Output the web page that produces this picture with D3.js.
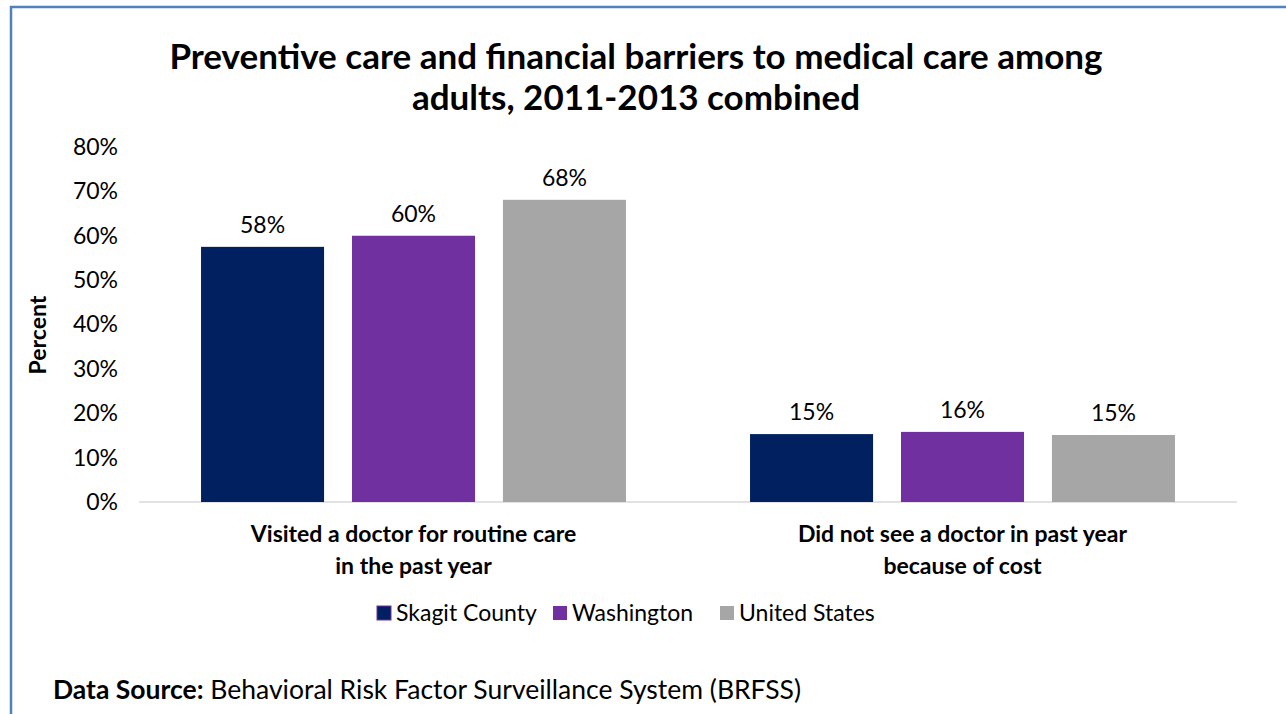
<!DOCTYPE html>
<html>
<head>
<meta charset="utf-8">
<script src="https://cdn.jsdelivr.net/npm/d3@7"></script>
<style>
  body { margin: 0; background: #fff; }
  svg { display: block; font-family: Lato, "Open Sans", sans-serif; }
</style>
</head>
<body>
<div id="vis"></div>
<script>
var categories = ['Visited a doctor for routine care|in the past year', 'Did not see a doctor in past year|because of cost'];
var series = ['Skagit County', 'Washington', 'United States'];
var colours = ['#002060', '#7030a0', '#a6a6a6'];
var skagit = [57.5, 15.3];
var washington = [60.0, 15.8];
var united_states = [68.1, 15.1];
var y_ticks = [0, 10, 20, 30, 40, 50, 60, 70, 80];

var width = 1286, height = 714;
var margin = { top: 147, bottom: 212, left: 139, right: 49 };

var svg = d3.select('#vis')
    .append('svg')
    .attr('width', width)
    .attr('height', height);

// outer frame
svg.append('rect')
    .attr('x', 11).attr('y', 7)
    .attr('width', width).attr('height', height)
    .attr('fill', 'none')
    .attr('stroke', '#4f81bd')
    .attr('stroke-width', 2.5);

var plot_w = width - margin.left - margin.right;
var plot_h = height - margin.top - margin.bottom;

var g = svg.append('g')
    .attr('transform', 'translate(' + margin.left + ',' + margin.top + ')');

var x0 = d3.scaleBand()
    .domain(categories)
    .range([0, plot_w])
    .paddingInner(0.226)
    .paddingOuter(0.113);

var x1 = d3.scaleBand()
    .domain(series)
    .range([0, x0.bandwidth()])
    .paddingInner(0.185);

var y = d3.scaleLinear()
    .domain([0, 80])
    .range([plot_h, 0]);

var colour = d3.scaleOrdinal().domain(series).range(colours);

var rows = categories.map(function(c, i) {
    return { cat: c, values: [
        { key: series[0], v: skagit[i] },
        { key: series[1], v: washington[i] },
        { key: series[2], v: united_states[i] }
    ] };
});

// y axis labels (no line)
var y_axis = d3.axisLeft(y)
    .tickValues(y_ticks)
    .tickSize(0)
    .tickPadding(21)
    .tickFormat(function(d) { return d + '%'; });

g.append('g')
    .attr('class', 'y axis')
    .call(y_axis)
    .call(function(s) { s.select('.domain').remove(); })
    .selectAll('text')
    .attr('font-size', 23)
    .attr('font-family', 'Lato, sans-serif')
    .attr('fill', '#000');

// baseline
g.append('line')
    .attr('x1', 0).attr('x2', plot_w)
    .attr('y1', y(0)).attr('y2', y(0))
    .attr('stroke', '#d9d9d9')
    .attr('stroke-width', 1.5);

var groups = g.selectAll('.grp')
    .data(rows)
    .enter()
    .append('g')
    .attr('class', 'grp')
    .attr('transform', function(d) { return 'translate(' + x0(d.cat) + ',0)'; });

groups.selectAll('rect')
    .data(function(d) { return d.values; })
    .enter()
    .append('rect')
    .attr('x', function(d) { return x1(d.key); })
    .attr('width', x1.bandwidth())
    .attr('y', function(d) { return y(d.v); })
    .attr('height', function(d) { return y(0) - y(d.v); })
    .attr('fill', function(d) { return colour(d.key); });

groups.selectAll('.lbl')
    .data(function(d) { return d.values; })
    .enter()
    .append('text')
    .attr('class', 'lbl')
    .attr('x', function(d) { return x1(d.key) + x1.bandwidth() / 2; })
    .attr('y', function(d) { return y(d.v) - 14; })
    .attr('text-anchor', 'middle')
    .attr('font-size', 23)
    .text(function(d) { return Math.round(d.v) + '%'; });

// category labels
var cat_labels = g.selectAll('.cat')
    .data(categories)
    .enter()
    .append('text')
    .attr('class', 'cat')
    .attr('text-anchor', 'middle')
    .attr('font-size', 23)
    .attr('font-weight', 'bold')
    .attr('transform', function(d) { return 'translate(' + (x0(d) + x0.bandwidth() / 2) + ',' + (plot_h + 40) + ')'; });

cat_labels.selectAll('tspan')
    .data(function(d) { return d.split('|'); })
    .enter()
    .append('tspan')
    .attr('x', 0)
    .attr('dy', function(d, i) { return i ? 32 : 0; })
    .text(function(d) { return d; });

// y title
svg.append('text')
    .attr('transform', 'translate(46,335) rotate(-90)')
    .attr('text-anchor', 'middle')
    .attr('font-size', 23)
    .attr('font-weight', 'bold')
    .text('Percent');

// title
var title = svg.append('text')
    .attr('text-anchor', 'middle')
    .attr('font-size', 35)
    .attr('font-weight', 'bold');
title.append('tspan').attr('x', 636).attr('y', 69)
    .text('Preventive care and financial barriers to medical care among');
title.append('tspan').attr('x', 636).attr('y', 110)
    .text('adults, 2011-2013 combined');

// legend
var legend_x = [377, 553, 720];
var legend = svg.selectAll('.legend')
    .data(series)
    .enter()
    .append('g')
    .attr('class', 'legend')
    .attr('transform', function(d, i) { return 'translate(' + legend_x[i] + ',606)'; });

legend.append('rect')
    .attr('width', 14).attr('height', 14)
    .attr('fill', function(d) { return colour(d); })
    .attr('stroke', function(d, i) { return i === 0 ? '#7030a0' : 'none'; })
    .attr('stroke-width', 1);

legend.append('text')
    .attr('x', 19).attr('y', 15)
    .attr('font-size', 23)
    .text(function(d) { return d; });

// source
var src = svg.append('text')
    .attr('x', 53).attr('y', 699)
    .attr('font-size', 26.5);
src.append('tspan').attr('font-weight', 'bold').text('Data Source:');
src.append('tspan').text(' Behavioral Risk Factor Surveillance System (BRFSS)');
</script>
</body>
</html>
